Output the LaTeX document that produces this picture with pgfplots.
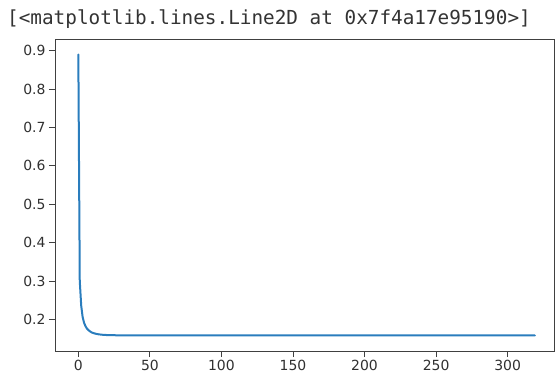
\documentclass[border=0pt]{standalone}
\usepackage{fontspec}
\usepackage{pgfplots}
\pgfplotsset{compat=1.18}
\newfontfamily\dejavu{DejaVu Sans}
\newfontfamily\dmono{DejaVu Sans Mono}
\definecolor{mplblue}{HTML}{2A7DBD}
\definecolor{spine}{HTML}{404040}
\definecolor{ticktext}{HTML}{303030}
\begin{document}
\begin{tikzpicture}
\begin{axis}[
  at={(55bp,24bp)}, anchor=south west,
  scale only axis,
  width=499bp, height=312bp,
  xmin=-16.3, xmax=332.4,
  ymin=0.1174, ymax=0.9305,
  xtick={0,50,100,150,200,250,300},
  ytick={0.2,0.3,0.4,0.5,0.6,0.7,0.8,0.9},
  tick align=outside,
  major tick length=6bp,
  tick style={spine, line width=0.8bp},
  axis line style={spine, line width=0.8bp},
  xtick pos=bottom, ytick pos=left,
  tick label style={font=\dejavu\fontsize{14}{16}\selectfont, text=ticktext},
  /pgf/number format/assume math mode=true,
  yticklabel style={/pgf/number format/.cd, fixed, precision=1, fixed zerofill},
  xticklabel style={/pgf/number format/.cd, fixed, precision=0},
  every axis plot/.append style={line join=round, line cap=round},
]
\addplot[mplblue, line width=2bp, no markers] coordinates {
(0,0.890) (1,0.300) (2,0.236) (3,0.206) (4,0.191) (5,0.182) (6,0.176)
(7,0.172) (8,0.169) (9,0.1665) (10,0.1648) (12,0.1625) (14,0.1610) (16,0.1600)
(18,0.1594) (20,0.1590) (25,0.1585) (30,0.1582) (40,0.1580) (60,0.1579)
(100,0.1578) (150,0.1578) (200,0.1578) (250,0.1578) (300,0.1578) (319,0.1578)
};
\end{axis}
\node[anchor=base west, inner sep=0pt, text=black!80, font=\dmono\fontsize{19.4}{22}\selectfont] at (7bp,350bp) {[<matplotlib.lines.Line2D at 0x7f4a17e95190>]};
\pgfresetboundingbox
\path[use as bounding box] (0,0) rectangle (556bp,375bp);
\end{tikzpicture}
\end{document}
